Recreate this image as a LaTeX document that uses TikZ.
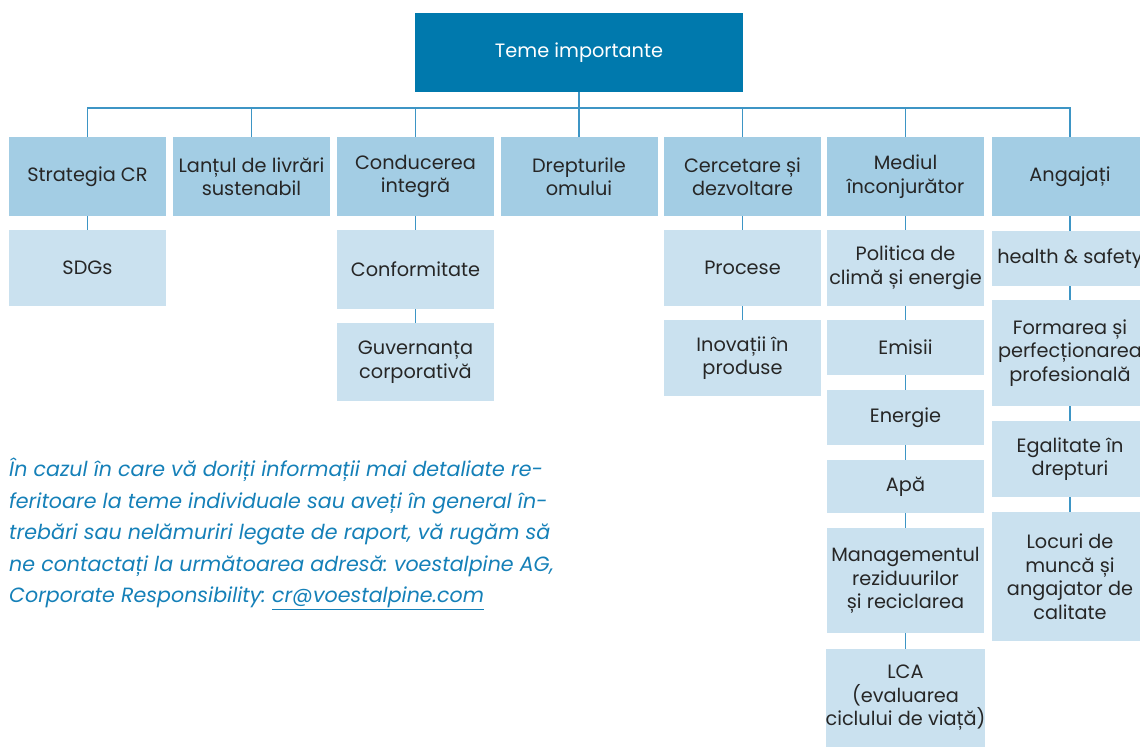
\documentclass[tikz,border=0pt]{standalone}
\usepackage{fontspec}
\setmainfont{Poppins}
\frenchspacing
\definecolor{temeblue}{HTML}{0079AD}
\definecolor{topicblue}{HTML}{A3CDE4}
\definecolor{subblue}{HTML}{CAE1EF}
\definecolor{linkblue}{HTML}{3D95C5}
\definecolor{noteblue}{HTML}{1580B8}
\newcommand{\bx}{\fontsize{19.3}{23.5}\selectfont}
\newcommand{\nt}{\fontsize{20.6}{31.5}\selectfont\itshape}

\begin{document}
\begin{tikzpicture}[x=1pt,y=-1pt,
    topic/.style={fill=topicblue,minimum width=157pt,minimum height=79pt,
                  inner sep=0pt,align=center,font=\bx,text=black!85},
    sub/.style={fill=subblue,minimum width=157pt,inner sep=0pt,
                align=center,font=\bx,text=black!85},
    link/.style={draw=linkblue,line width=1.3pt}]
  \useasboundingbox (0,0) rectangle (1140,747);
  % head
  \node[fill=temeblue,minimum width=328pt,minimum height=79pt,text=white,font=\bx]
     (teme) at (579,52.5) {Teme importante};
  % topics
  \node[topic] (strat) at (  87.5,176.5) {Strategia CR};
  \node[topic] (lant)  at ( 251.5,176.5) {Lanțul de livrări\\sustenabil};
  \node[topic] (cond)  at ( 415.5,176.5) {Conducerea\\integră};
  \node[topic] (drept) at ( 579.0,176.5) {Drepturile\\omului};
  \node[topic] (cerc)  at ( 742.5,176.5) {Cercetare și\\dezvoltare};
  \node[topic] (med)   at ( 905.5,176.5) {Mediul\\înconjurător};
  \node[topic] (angaj) at (1070.0,176.5) {Angajați};
  % subtopics
  \node[sub,minimum height=76pt]  (sdg)   at (  87.5,268.0) {SDGs};
  \node[sub,minimum height=79pt]  (conf)  at ( 415.5,269.5) {Conformitate};
  \node[sub,minimum height=78pt]  (guv)   at ( 415.5,362.0) {Guvernanța\\corporativă};
  \node[sub,minimum height=76pt]  (proc)  at ( 742.5,268.0) {Procese};
  \node[sub,minimum height=76pt]  (inov)  at ( 742.5,358.0) {Inovații în\\produse};
  \node[sub,minimum height=76pt]  (pol)   at ( 905.5,268.0) {Politica de\\climă și energie};
  \node[sub,minimum height=55pt]  (emis)  at ( 905.5,347.5) {Emisii};
  \node[sub,minimum height=55pt]  (energ) at ( 905.5,417.5) {Energie};
  \node[sub,minimum height=53pt]  (apa)   at ( 905.5,486.5) {Apă};
  \node[sub,minimum height=105pt] (deseu) at ( 905.5,580.5) {Managementul\\reziduurilor\\și reciclarea};
  \node[sub,minimum height=98pt]  (lca)   at ( 905.5,698.0) {LCA\\(evaluarea\\ciclului de viață)};
  \node[sub,minimum height=55pt]  (hs)    at (1070.0,258.5) {health \& safety};
  \node[sub,minimum height=106pt] (form)  at (1070.0,353.0) {Formarea și\\perfecționarea\\profesională};
  \node[sub,minimum height=76pt]  (egal)  at (1070.0,459.0) {Egalitate în\\drepturi};
  \node[sub,minimum height=129pt] (loc)   at (1070.0,576.5) {Locuri de\\muncă și\\angajator de\\calitate};
  % connectors
  \coordinate (bar) at (579,108);
  \draw[link] (teme.south) -- (drept.north);
  \draw[link] (strat.north) -- (strat.north |- bar) -- (angaj.north |- bar) -- (angaj.north);
  \foreach \t in {lant,cond,cerc,med}
    \draw[link] (\t.north) -- (\t.north |- bar);
  \foreach \a/\b in {strat/sdg,cond/conf,conf/guv,cerc/proc,proc/inov,
                     med/pol,pol/emis,emis/energ,energ/apa,apa/deseu,deseu/lca,
                     angaj/hs,hs/form,form/egal,egal/loc}
    \draw[link] (\a.south) -- (\b.north);
  % note
  \node[anchor=north west,inner sep=0pt,align=left,font=\nt,text=noteblue]
     (note) at (9,458) {În cazul în care vă doriți informații mai detaliate re-\\
     feritoare la teme individuale sau aveți în general în-\\
     trebări sau nelămuriri legate de raport, vă rugăm să\\
     ne contactați la următoarea adresă: voestalpine AG,\\
     Corporate Responsibility: \underline{cr@voestalpine.com}};
\end{tikzpicture}
\end{document}
